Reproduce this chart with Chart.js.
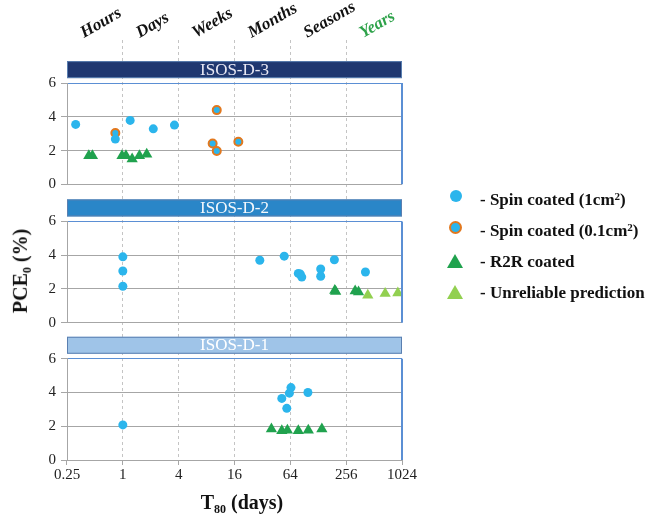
<!DOCTYPE html>
<html>
<head>
<meta charset="utf-8">
<script src="https://cdn.jsdelivr.net/npm/chart.js@4.4.1/dist/chart.umd.min.js"></script>
<style>
  body { margin: 0; background: #fff; }
  #wrap { position: relative; width: 647px; height: 516px; font-family: "Liberation Serif", serif; }
  #grafico { position: absolute; left: 0; top: 0; }
  .titulo { position: absolute; font-weight: bold; font-size: 20px; color: #111; white-space: nowrap; }
  .titulo sub { font-size: 0.6em; vertical-align: -0.35em; }
  #tituloY { left: 22px; top: 271px; transform: translate(-50%, -50%) rotate(-90deg); }
  #tituloX { left: 242px; top: 504px; transform: translate(-50%, -50%); }
  .legenda { position: absolute; left: 444px; top: 184px; font-weight: bold; font-size: 17px; color: #111; }
  .legenda div { position: relative; height: 31px; line-height: 24px; padding-left: 36px; white-space: nowrap; }
  .legenda sup { font-size: 0.65em; vertical-align: 0.45em; }
  .simb { position: absolute; left: 6px; top: 6px; }
  .circ { width: 12px; height: 12px; border-radius: 50%; background: #2bb5ec; }
  .anel { width: 9px; height: 9px; border-radius: 50%; background: #2bb5ec; border: 2px solid #e2781e; left: 5px; }
  .tri { width: 0; height: 0; border-left: 8.5px solid transparent; border-right: 8.5px solid transparent; left: 3px; top: 4px; }
</style>
</head>
<body>
<div id="wrap">
  <canvas id="grafico" width="647" height="516"></canvas>
  <div class="titulo" id="tituloY">PCE<sub>0</sub> (%)</div>
  <div class="titulo" id="tituloX">T<sub>80</sub> (days)</div>
  <div class="legenda">
    <div><span class="simb circ"></span>- Spin coated (1cm<sup>2</sup>)</div>
    <div style="height:35px"><span class="simb anel"></span>- Spin coated (0.1cm<sup>2</sup>)</div>
    <div><span class="simb tri" style="border-bottom:14px solid #20a24e"></span>- R2R coated</div>
    <div><span class="simb tri" style="border-bottom:14px solid #92d050"></span>- Unreliable prediction</div>
  </div>
</div>
<script>
// Eixos
const ticksX = [0.25, 1, 4, 16, 64, 256, 1024];
const ticksY = [0, 2, 4, 6];
const periodos = ["Hours", "Days", "Weeks", "Months", "Seasons", "Years"];

// ISOS-D-3
const d3SpinX = [0.31, 0.83, 1.2, 2.13, 3.6];
const d3SpinY = [3.55, 2.68, 3.79, 3.29, 3.51];
const d3SpinPeqX = [0.83, 9.3, 10.3, 10.3, 17.6];
const d3SpinPeqY = [3.04, 2.42, 4.4, 1.98, 2.52];
const d3R2rX = [0.43, 0.47, 0.98, 1.08, 1.26, 1.51, 1.81];
const d3R2rY = [1.7, 1.7, 1.7, 1.7, 1.5, 1.7, 1.78];

// ISOS-D-2
const d2SpinX = [1, 1, 1, 30, 55, 78, 82, 85, 136, 136, 191, 413];
const d2SpinY = [3.9, 3.06, 2.16, 3.7, 3.94, 2.92, 2.88, 2.7, 3.18, 2.75, 3.73, 3.0];
const d2R2rX = [193, 197, 320, 348];
const d2R2rY = [1.9, 1.85, 1.88, 1.82];
const d2InstX = [438, 674, 924];
const d2InstY = [1.62, 1.73, 1.76];

// ISOS-D-1
const d1SpinX = [1, 51.8, 58.6, 62.5, 65, 99];
const d1SpinY = [2.08, 3.65, 3.06, 3.96, 4.29, 4.0];
const d1R2rX = [40, 51.8, 59.5, 78, 100, 140];
const d1R2rY = [1.84, 1.74, 1.76, 1.74, 1.76, 1.84];

const azul = "#2bb5ec";
const laranja = "#e2781e";
const verde = "#20a24e";
const verdeClaro = "#92d050";
const cinza = "#a6a6a6";
const bordaAzul = "#5b8fd4";

// painéis: id do eixo, rótulo, cor da faixa, cor do texto
const paineis = [
  { id: "p3", nome: "ISOS-D-3", cor: "#1f3770", texto: "#e8e8f4" },
  { id: "p2", nome: "ISOS-D-2", cor: "#2a86c8", texto: "#f4f8fc" },
  { id: "p1", nome: "ISOS-D-1", cor: "#9fc4e8", texto: "#ffffff" }
];

function serie(xs, ys) {
  return xs.map((x, i) => ({ x: x, y: ys[i] }));
}

function circulos(xs, ys, eixo) {
  return { data: serie(xs, ys), yAxisID: eixo, pointStyle: "circle", pointRadius: 4.5,
    backgroundColor: azul, borderColor: azul, borderWidth: 0 };
}
function aneis(xs, ys, eixo) {
  return { data: serie(xs, ys), yAxisID: eixo, pointStyle: "circle", pointRadius: 4,
    backgroundColor: azul, borderColor: laranja, borderWidth: 2 };
}
function triangulos(xs, ys, eixo, cor) {
  return { data: serie(xs, ys), yAxisID: eixo, pointStyle: "triangle", pointRadius: 6.5,
    backgroundColor: cor, borderColor: cor, borderWidth: 0 };
}

const fonteTick = { family: "'Liberation Serif', serif", size: 15 };

function eixoPainel(peso) {
  return {
    type: "linear", axis: "y", position: "left", stack: "v", stackWeight: 101, weight: peso,
    min: 0, max: 6,
    afterBuildTicks: s => { s.ticks = ticksY.map(v => ({ value: v })); },
    afterFit: s => { s.width = 40; },
    ticks: { font: fonteTick, color: "#222", padding: 5, autoSkip: false },
    grid: {
      color: c => (c.tick && c.tick.value === 6 ? bordaAzul : cinza),
      tickColor: cinza, tickLength: 6
    },
    border: { color: cinza }
  };
}

function espaco(peso, altura) {
  return {
    type: "linear", axis: "y", position: "left", stack: "v", stackWeight: altura, weight: peso,
    afterFit: s => { s.width = 40; },
    ticks: { display: false }, grid: { display: false }, border: { display: false }
  };
}

// Faixas dos painéis, bordas à direita e rótulos de período
const decoracao = {
  id: "decoracao",
  afterDraw(chart) {
    const ctx = chart.ctx;
    const area = chart.chartArea;
    ctx.save();
    paineis.forEach(p => {
      const s = chart.scales[p.id];
      ctx.strokeStyle = bordaAzul;
      ctx.lineWidth = 2;
      ctx.beginPath();
      ctx.moveTo(area.right, s.top);
      ctx.lineTo(area.right, s.bottom);
      ctx.stroke();

      const topo = s.top - 22;
      ctx.fillStyle = p.cor;
      ctx.fillRect(area.left, topo, area.right - area.left, 17);
      ctx.strokeStyle = "#5a7fb0";
      ctx.lineWidth = 1;
      ctx.strokeRect(area.left + 0.5, topo + 0.5, area.right - area.left - 1, 16);
      ctx.fillStyle = p.texto;
      ctx.font = "17px 'Liberation Serif', serif";
      ctx.textAlign = "center";
      ctx.textBaseline = "middle";
      ctx.fillText(p.nome, (area.left + area.right) / 2, topo + 9);
    });

    const x = chart.scales.x;
    ctx.font = "bold italic 17px 'Liberation Serif', serif";
    ctx.textAlign = "left";
    ctx.textBaseline = "alphabetic";
    periodos.forEach((nome, i) => {
      ctx.save();
      ctx.translate(x.getPixelForValue(ticksX[i]) + 17, 38);
      ctx.rotate(-Math.PI / 6);
      ctx.fillStyle = nome === "Years" ? "#2ea24a" : "#111";
      ctx.fillText(nome, 0, 0);
      ctx.restore();
    });
    ctx.restore();
  }
};

new Chart(document.getElementById("grafico"), {
  type: "scatter",
  data: {
    datasets: [
      circulos(d3SpinX, d3SpinY, "p3"),
      aneis(d3SpinPeqX, d3SpinPeqY, "p3"),
      triangulos(d3R2rX, d3R2rY, "p3", verde),
      circulos(d2SpinX, d2SpinY, "p2"),
      triangulos(d2R2rX, d2R2rY, "p2", verde),
      triangulos(d2InstX, d2InstY, "p2", verdeClaro),
      circulos(d1SpinX, d1SpinY, "p1"),
      triangulos(d1R2rX, d1R2rY, "p1", verde)
    ]
  },
  options: {
    responsive: false,
    animation: false,
    events: [],
    layout: { padding: { left: 27, right: 245, top: 40, bottom: 0 } },
    plugins: { legend: { display: false }, tooltip: { enabled: false } },
    scales: {
      x: {
        type: "logarithmic", position: "bottom", min: 0.25, max: 1024,
        afterBuildTicks: s => { s.ticks = ticksX.map(v => ({ value: v })); },
        afterFit: s => { s.height = 56; },
        ticks: { font: fonteTick, color: "#222", padding: 1, maxRotation: 0, autoSkip: false,
          callback: v => String(v) },
        grid: {
          color: c => (c.index === 0 || c.index === ticksX.length - 1 ? "rgba(0,0,0,0)" : "#c4c4c4"),
          tickColor: cinza, tickLength: 5, tickBorderDash: []
        },
        border: { color: cinza, dash: [3, 3] }
      },
      sTopo: espaco(6, 43),
      p3: eixoPainel(5),
      sMeio1: espaco(4, 37),
      p2: eixoPainel(3),
      sMeio2: espaco(2, 36),
      p1: eixoPainel(1)
    }
  },
  plugins: [decoracao]
});
</script>
</body>
</html>
